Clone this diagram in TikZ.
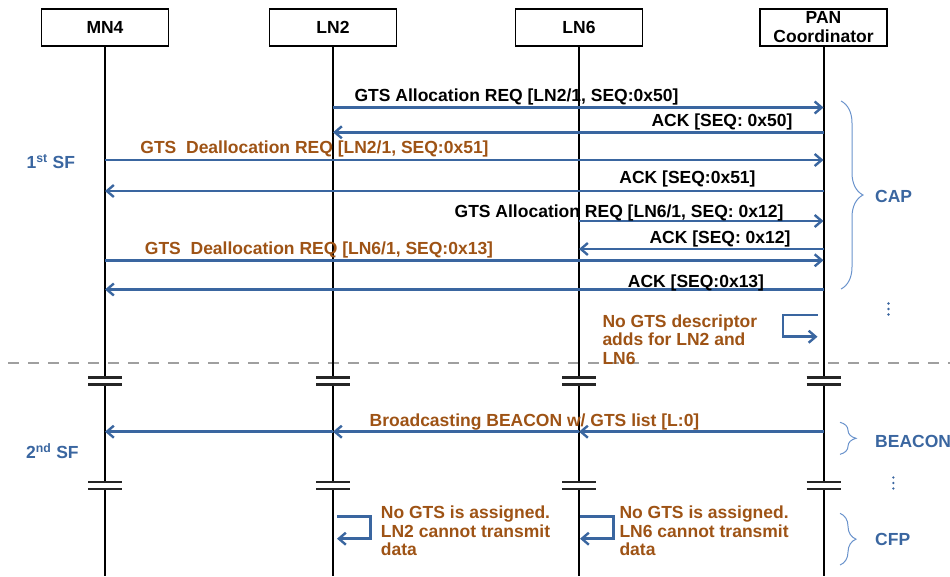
\documentclass[tikz,border=0pt]{standalone}
\usepackage{fontspec}
\setmainfont{Liberation Sans}
\usetikzlibrary{arrows.meta,calc,decorations.pathreplacing}

\definecolor{msgblue}{HTML}{3A66A0}
\definecolor{notebrown}{HTML}{9E5315}
\definecolor{bracecol}{HTML}{6A93CC}

\tikzset{
  actor/.style={draw, line width=1.9pt, minimum width=127pt, minimum height=37pt, inner sep=0pt, align=center, font=\bfseries\fontsize{17.5}{19}\selectfont},
  life/.style={line width=2pt},
  brk/.style={line width=2.3pt, draw=black!85},
  msg/.style={-{Straight Barb[length=7pt,width=12pt,line width=2.4pt]}, draw=msgblue, line width=2.5pt},
  lbl/.style={anchor=base, inner sep=0pt, font=\bfseries\fontsize{17.5}{19}\selectfont},
  note/.style={anchor=north west, inner sep=0pt, align=left, text=notebrown, font=\bfseries\fontsize{17.5}{18.5}\selectfont},
  phase/.style={decorate, draw=bracecol, line width=1pt},
  phaselbl/.style={anchor=west, inner sep=0pt, text=msgblue, font=\bfseries\fontsize{17.5}{19}\selectfont},
  dot/.style={fill=msgblue, circle, inner sep=0pt, minimum size=2.6pt}
}

\begin{document}
\begin{tikzpicture}[x=1pt,y=-1pt]
\useasboundingbox (0,0) rectangle (950,576);

% participants
\node[actor] (MN4) at (105,27.5) {MN4};
\node[actor] (LN2) at (333,27.5) {LN2};
\node[actor] (LN6) at (579,27.5) {LN6};
\node[actor] (PAN) at (823.5,27.5) {PAN\\Coordinator};

% superframe boundary
\draw[gray!75, line width=2.4pt, dash pattern=on 11pt off 9pt] (8,363) -- (950,363);

% lifelines with breaks
\foreach \n in {MN4,LN2,LN6,PAN}{
  \draw[life] (\n.south) -- (\n |- 0,377.5);
  \draw[life] (\n |- 0,384.5) -- (\n |- 0,482);
  \draw[life] (\n |- 0,489) -- (\n |- 0,576);
  \foreach \y in {377.5,384.5,482,489}
    \draw[brk] ($(\n |- 0,\y)+(-17,0)$) -- ($(\n |- 0,\y)+(17,0)$);
}

% 1st SF
\node[phaselbl, anchor=base west] (sf1) at (26.5,168.3) {1\textsuperscript{st} SF};

\draw[msg] (LN2 |- 0,107.5) -- (PAN |- 0,107.5);
\node[lbl] (m1) at (516.5,101.5) {GTS Allocation REQ [LN2/1, SEQ:0x50]};
\draw[msg] (PAN |- 0,132.3) -- (LN2 |- 0,132.3);
\node[lbl] (m2) at (722,126.3) {ACK [SEQ: 0x50]};
\draw[msg] (MN4 |- 0,160) -- (PAN |- 0,160);
\node[lbl, text=notebrown] (m3) at (314.5,153.5) {GTS\ \ Deallocation REQ [LN2/1, SEQ:0x51]};
\draw[msg] (PAN |- 0,191) -- (MN4 |- 0,191);
\node[lbl] (m4) at (687.5,183.5) {ACK [SEQ:0x51]};
\draw[msg] (LN6 |- 0,221) -- (PAN |- 0,221);
\node[lbl] (m5) at (619,217) {GTS Allocation REQ [LN6/1, SEQ: 0x12]};
\draw[msg] (PAN |- 0,249) -- (LN6 |- 0,249);
\node[lbl] (m6) at (720,243.3) {ACK [SEQ: 0x12]};
\draw[msg] (MN4 |- 0,260.3) -- (PAN |- 0,260.3);
\node[lbl, text=notebrown] (m7) at (319,254.3) {GTS\ \ Deallocation REQ [LN6/1, SEQ:0x13]};
\draw[msg] (PAN |- 0,289.5) -- (MN4 |- 0,289.5);
\node[lbl] (m8) at (696,287) {ACK [SEQ:0x13]};

\draw[phase, decoration={brace, amplitude=22pt}] (841,101) -- (841,289);
\node[phaselbl] (cap) at (875,196.5) {CAP};
\foreach \y in {303.5,309,314.5} \node[dot] at (888.5,\y) {};

\draw[msg] ($(PAN |- 0,315)+(-6,0)$) -- ++(-34.5,0) -- ++(0,21.7) -- ++(34.5,0);
\node[note] (n1) at (602.3,314.3) {No GTS descriptor\\adds for LN2 and\\LN6};

% 2nd SF
\node[phaselbl, anchor=base west] (sf2) at (26,458.3) {2\textsuperscript{nd} SF};

\draw[msg] (PAN |- 0,431.7) -- (LN6 |- 0,431.7);
\draw[msg] (LN6 |- 0,431.7) -- (LN2 |- 0,431.7);
\draw[msg] (LN2 |- 0,431.7) -- (MN4 |- 0,431.7);
\node[lbl, text=notebrown] (m9) at (534.5,426) {Broadcasting BEACON w/ GTS list [L:0]};

\draw[phase, decoration={brace, amplitude=16pt}] (840,422.3) -- (840,454.3);
\node[phaselbl] (beacon) at (875,441.7) {BEACON};
\foreach \y in {477.5,483,488.5} \node[dot] at (893.3,\y) {};

\draw[msg] ($(LN2 |- 0,516.7)+(4,0)$) -- ++(33.7,0) -- ++(0,22) -- ++(-33.7,0);
\node[note] (n2) at (380.7,506) {No GTS is assigned.\\LN2 cannot transmit\\data};
\draw[msg] ($(LN6 |- 0,516.7)+(1,0)$) -- ++(33.3,0) -- ++(0,22) -- ++(-33.3,0);
\node[note] (n3) at (619.3,506) {No GTS is assigned.\\LN6 cannot transmit\\data};

\draw[phase, decoration={brace, amplitude=16pt}] (840,513.3) -- (840,565);
\node[phaselbl] (cfp) at (875,539.3) {CFP};

\end{tikzpicture}
\end{document}
